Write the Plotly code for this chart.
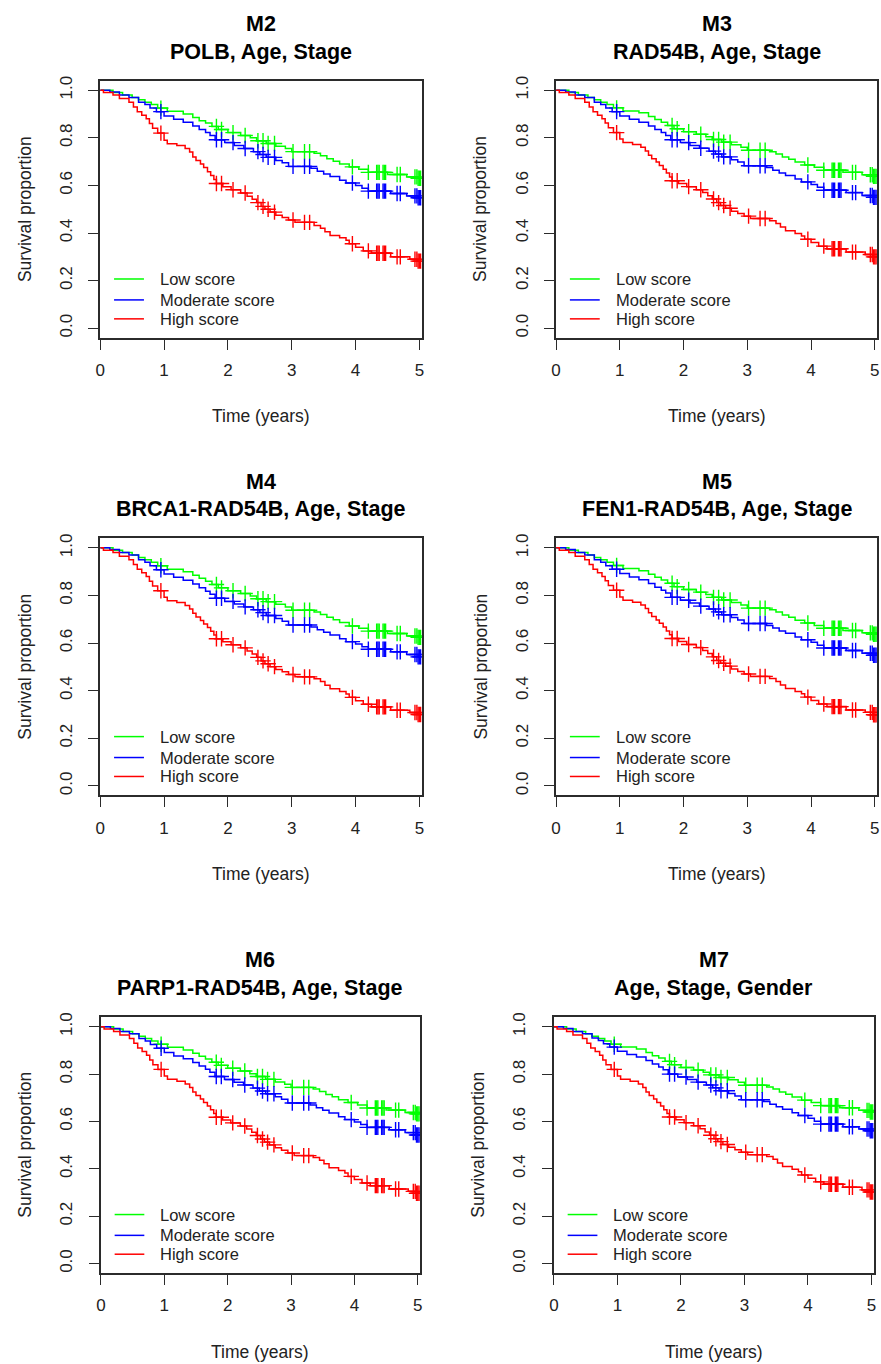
import bisect
import plotly.graph_objects as go

W, H = 881, 1364
FONT = "Liberation Sans, Arial, sans-serif"

# ---------------- data ----------------
PANEL_IDS = ["M2", "M3", "M4", "M5", "M6", "M7"]
PANEL_SUBTITLES = ["POLB, Age, Stage", "RAD54B, Age, Stage", "BRCA1-RAD54B, Age, Stage",
                   "FEN1-RAD54B, Age, Stage", "PARP1-RAD54B, Age, Stage", "Age, Stage, Gender"]
GROUPS = ["Low score", "Moderate score", "High score"]
COLORS = ["#00FF00", "#0000FF", "#FF0000"]

X_TICKS = [0, 1, 2, 3, 4, 5]
Y_TICKS = [0.0, 0.2, 0.4, 0.6, 0.8, 1.0]
Y_TICK_TEXT = ["0.0", "0.2", "0.4", "0.6", "0.8", "1.0"]

# event times (years) of the step drops for each risk group
LOW_T = [0, 0.2, 0.35, 0.5, 0.6, 0.7, 0.8, 0.9, 1.05, 1.3, 1.45, 1.55, 1.65, 1.75, 1.85, 2.0, 2.2,
         2.35, 2.45, 2.6, 2.75, 2.9, 3.0, 3.35, 3.45, 3.55, 3.65, 3.75, 3.9, 4.05, 4.2, 4.5, 4.8, 4.97]
MOD_T = [0, 0.15, 0.3, 0.45, 0.6, 0.7, 0.78, 0.88, 1.0, 1.15, 1.3, 1.45, 1.55, 1.65, 1.72, 1.8, 1.95,
         2.1, 2.25, 2.4, 2.5, 2.6, 2.75, 2.85, 2.95, 3.3, 3.4, 3.5, 3.6, 3.75, 3.85, 4.0, 4.1, 4.2,
         4.55, 4.8, 4.98]
HIGH_T = [0, 0.05, 0.2, 0.3, 0.45, 0.52, 0.58, 0.65, 0.72, 0.77, 0.82, 0.9, 1.0, 1.05, 1.2, 1.33, 1.4,
          1.45, 1.5, 1.57, 1.62, 1.68, 1.73, 1.78, 1.82, 1.92, 2.05, 2.2, 2.3, 2.38, 2.45, 2.52, 2.58,
          2.66, 2.75, 2.85, 2.95, 3.05, 3.35, 3.45, 3.52, 3.6, 3.75, 3.85, 3.9, 4.0, 4.12, 4.25, 4.55,
          4.85, 4.97]

# censoring times (shown as "+")
CENSOR_T = [0.95, 1.82, 1.9, 2.08, 2.27, 2.47, 2.55, 2.63, 2.73, 3.02, 3.2, 3.28, 3.95, 4.2,
            4.33, 4.35, 4.37, 4.43, 4.45, 4.47, 4.65, 4.7, 4.93, 4.96, 4.98, 5.0, 5.02]

# survival proportions per panel
LOW_S_M2 = [1.0, 0.99, 0.98, 0.97, 0.96, 0.95, 0.94, 0.925, 0.912, 0.9, 0.885, 0.872, 0.862, 0.848,
            0.835, 0.822, 0.81, 0.8, 0.788, 0.776, 0.765, 0.755, 0.742, 0.735, 0.725, 0.712, 0.702,
            0.69, 0.678, 0.668, 0.655, 0.646, 0.636, 0.63]
MOD_S_M2 = [1.0, 0.993, 0.98, 0.97, 0.95, 0.94, 0.925, 0.91, 0.892, 0.878, 0.866, 0.85, 0.835, 0.822,
            0.81, 0.792, 0.78, 0.768, 0.755, 0.742, 0.73, 0.718, 0.705, 0.695, 0.68, 0.672, 0.66,
            0.648, 0.638, 0.622, 0.61, 0.6, 0.588, 0.576, 0.566, 0.556, 0.548]
HIGH_S_M2 = [1.0, 0.99, 0.98, 0.965, 0.95, 0.93, 0.91, 0.895, 0.88, 0.86, 0.84, 0.82, 0.79, 0.775,
             0.768, 0.755, 0.74, 0.72, 0.705, 0.69, 0.675, 0.658, 0.642, 0.625, 0.608, 0.595, 0.582,
             0.568, 0.555, 0.542, 0.528, 0.512, 0.5, 0.488, 0.475, 0.465, 0.455, 0.445, 0.432, 0.42,
             0.405, 0.39, 0.38, 0.37, 0.355, 0.34, 0.325, 0.315, 0.3, 0.29, 0.282]

LOW_S_M3 = [1.0, 0.99, 0.98, 0.97, 0.96, 0.95, 0.94, 0.926, 0.913, 0.905, 0.89, 0.877, 0.866, 0.852,
            0.838, 0.826, 0.815, 0.805, 0.793, 0.782, 0.771, 0.761, 0.748, 0.742, 0.732, 0.72, 0.71,
            0.698, 0.686, 0.676, 0.664, 0.655, 0.645, 0.638]
MOD_S_M3 = [1.0, 0.993, 0.98, 0.97, 0.95, 0.94, 0.925, 0.91, 0.892, 0.878, 0.866, 0.85, 0.835, 0.822,
            0.81, 0.792, 0.78, 0.768, 0.756, 0.744, 0.732, 0.72, 0.708, 0.698, 0.683, 0.675, 0.664,
            0.652, 0.642, 0.627, 0.615, 0.604, 0.592, 0.58, 0.57, 0.558, 0.55]
HIGH_S_M3 = [1.0, 0.99, 0.98, 0.965, 0.95, 0.93, 0.91, 0.895, 0.88, 0.862, 0.842, 0.822, 0.795, 0.78,
             0.772, 0.76, 0.745, 0.727, 0.712, 0.698, 0.684, 0.668, 0.652, 0.636, 0.62, 0.608, 0.595,
             0.582, 0.57, 0.557, 0.543, 0.528, 0.516, 0.504, 0.492, 0.482, 0.471, 0.461, 0.452, 0.44,
             0.425, 0.41, 0.398, 0.388, 0.374, 0.36, 0.345, 0.334, 0.32, 0.31, 0.3]

LOW_S_M4 = [1.0, 0.99, 0.98, 0.97, 0.96, 0.95, 0.94, 0.925, 0.91, 0.9, 0.885, 0.872, 0.86, 0.846,
            0.832, 0.82, 0.808, 0.798, 0.786, 0.774, 0.763, 0.752, 0.738, 0.73, 0.72, 0.708, 0.698,
            0.686, 0.672, 0.662, 0.65, 0.64, 0.63, 0.624]
MOD_S_M4 = [1.0, 0.993, 0.98, 0.97, 0.95, 0.94, 0.925, 0.908, 0.89, 0.876, 0.864, 0.848, 0.832, 0.818,
            0.805, 0.788, 0.775, 0.764, 0.752, 0.74, 0.728, 0.716, 0.703, 0.692, 0.676, 0.668, 0.656,
            0.645, 0.634, 0.618, 0.606, 0.596, 0.585, 0.574, 0.563, 0.552, 0.542]
HIGH_S_M4 = [1.0, 0.99, 0.98, 0.965, 0.95, 0.93, 0.91, 0.895, 0.88, 0.86, 0.84, 0.82, 0.792, 0.778,
             0.77, 0.758, 0.743, 0.725, 0.71, 0.695, 0.68, 0.665, 0.65, 0.634, 0.618, 0.606, 0.593,
             0.58, 0.567, 0.554, 0.54, 0.525, 0.513, 0.501, 0.489, 0.479, 0.468, 0.458, 0.45, 0.438,
             0.423, 0.408, 0.396, 0.386, 0.372, 0.358, 0.343, 0.332, 0.318, 0.308, 0.3]

LOW_S_M5 = [1.0, 0.99, 0.98, 0.97, 0.96, 0.95, 0.94, 0.926, 0.913, 0.904, 0.889, 0.876, 0.865, 0.851,
            0.837, 0.825, 0.814, 0.804, 0.792, 0.781, 0.77, 0.76, 0.747, 0.74, 0.73, 0.718, 0.708,
            0.696, 0.684, 0.674, 0.662, 0.653, 0.643, 0.637]
MOD_S_M5 = [1.0, 0.993, 0.98, 0.97, 0.95, 0.94, 0.925, 0.91, 0.892, 0.878, 0.866, 0.85, 0.835, 0.822,
            0.81, 0.792, 0.78, 0.768, 0.755, 0.743, 0.731, 0.719, 0.707, 0.697, 0.682, 0.674, 0.663,
            0.651, 0.641, 0.626, 0.614, 0.603, 0.591, 0.579, 0.569, 0.557, 0.549]
HIGH_S_M5 = [1.0, 0.99, 0.98, 0.965, 0.95, 0.93, 0.91, 0.895, 0.88, 0.862, 0.842, 0.822, 0.794, 0.78,
             0.772, 0.76, 0.745, 0.727, 0.712, 0.697, 0.683, 0.667, 0.651, 0.635, 0.619, 0.607, 0.594,
             0.581, 0.569, 0.556, 0.542, 0.527, 0.515, 0.503, 0.491, 0.481, 0.47, 0.46, 0.451, 0.439,
             0.424, 0.409, 0.397, 0.387, 0.373, 0.359, 0.344, 0.333, 0.319, 0.309, 0.299]

LOW_S_M6 = [1.0, 0.99, 0.98, 0.97, 0.96, 0.95, 0.94, 0.926, 0.913, 0.902, 0.888, 0.875, 0.864, 0.85,
            0.837, 0.825, 0.813, 0.802, 0.79, 0.778, 0.767, 0.757, 0.744, 0.737, 0.727, 0.714, 0.704,
            0.692, 0.68, 0.67, 0.657, 0.648, 0.638, 0.632]
MOD_S_M6 = [1.0, 0.993, 0.98, 0.97, 0.95, 0.94, 0.925, 0.909, 0.891, 0.877, 0.865, 0.849, 0.834, 0.821,
            0.808, 0.79, 0.777, 0.766, 0.754, 0.741, 0.729, 0.717, 0.704, 0.694, 0.678, 0.67, 0.658,
            0.647, 0.636, 0.62, 0.608, 0.598, 0.587, 0.575, 0.565, 0.553, 0.543]
HIGH_S_M6 = [1.0, 0.99, 0.98, 0.965, 0.95, 0.93, 0.91, 0.895, 0.88, 0.86, 0.84, 0.82, 0.792, 0.778,
             0.77, 0.758, 0.743, 0.725, 0.71, 0.695, 0.68, 0.665, 0.65, 0.634, 0.618, 0.606, 0.594,
             0.581, 0.568, 0.555, 0.541, 0.526, 0.513, 0.501, 0.489, 0.478, 0.467, 0.456, 0.448, 0.436,
             0.421, 0.405, 0.393, 0.382, 0.368, 0.355, 0.34, 0.329, 0.315, 0.305, 0.297]

LOW_S_M7 = [1.0, 0.99, 0.98, 0.97, 0.96, 0.95, 0.94, 0.926, 0.914, 0.906, 0.891, 0.878, 0.868, 0.854,
            0.84, 0.828, 0.817, 0.808, 0.797, 0.786, 0.776, 0.766, 0.753, 0.746, 0.737, 0.725, 0.715,
            0.703, 0.69, 0.68, 0.667, 0.658, 0.647, 0.64]
MOD_S_M7 = [1.0, 0.993, 0.98, 0.97, 0.952, 0.942, 0.928, 0.914, 0.897, 0.883, 0.872, 0.857, 0.843, 0.83,
            0.818, 0.8, 0.788, 0.777, 0.766, 0.754, 0.742, 0.73, 0.718, 0.708, 0.692, 0.684, 0.673,
            0.662, 0.652, 0.637, 0.625, 0.614, 0.601, 0.589, 0.578, 0.568, 0.561]
HIGH_S_M7 = [1.0, 0.99, 0.98, 0.965, 0.95, 0.93, 0.91, 0.895, 0.88, 0.86, 0.84, 0.82, 0.792, 0.778,
             0.77, 0.758, 0.743, 0.725, 0.71, 0.695, 0.68, 0.665, 0.65, 0.634, 0.619, 0.607, 0.595,
             0.582, 0.569, 0.556, 0.542, 0.527, 0.515, 0.503, 0.491, 0.481, 0.47, 0.46, 0.452, 0.44,
             0.425, 0.41, 0.398, 0.388, 0.374, 0.36, 0.345, 0.335, 0.322, 0.311, 0.302]

PANEL_CURVES = [
    (LOW_S_M2, MOD_S_M2, HIGH_S_M2),
    (LOW_S_M3, MOD_S_M3, HIGH_S_M3),
    (LOW_S_M4, MOD_S_M4, HIGH_S_M4),
    (LOW_S_M5, MOD_S_M5, HIGH_S_M5),
    (LOW_S_M6, MOD_S_M6, HIGH_S_M6),
    (LOW_S_M7, MOD_S_M7, HIGH_S_M7),
]
GROUP_T = [LOW_T, MOD_T, HIGH_T]

# ---------------- layout geometry (pixels) ----------------
# plot box: left, right, top, bottom
BOXES = [
    (96.0, 420.0, 76.0, 334.0),
    (555.5, 879.0, 76.0, 334.0),
    (96.0, 420.0, 535.3, 793.3),
    (555.5, 879.0, 535.3, 793.3),
    (96.7, 418.3, 1016.0, 1272.7),
    (553.3, 875.7, 1016.0, 1272.7),
]


def px(x):
    return x / W


def py(y):
    return 1 - y / H


fig = go.Figure()
annotations = []
shapes = []
layout_axes = {}

for i, pid in enumerate(PANEL_IDS):
    n = i + 1
    xa = "x" if n == 1 else f"x{n}"
    ya = "y" if n == 1 else f"y{n}"
    l, r, t, b = BOXES[i]
    curves = PANEL_CURVES[i]
    for g in range(3):
        T = GROUP_T[g]
        S = curves[g]
        xs = list(T) + [CENSOR_T[-1]]
        ys = list(S) + [S[-1]]
        fig.add_trace(go.Scatter(x=xs, y=ys, mode="lines", line=dict(color=COLORS[g], width=1.5, shape="hv"),
                                 xaxis=xa, yaxis=ya, showlegend=False, hoverinfo="skip"))
        cy = [S[bisect.bisect_right(T, c) - 1] for c in CENSOR_T]
        fig.add_trace(go.Scatter(x=CENSOR_T, y=cy, mode="markers",
                                 marker=dict(symbol="cross-thin", size=11, color=COLORS[g],
                                             line=dict(color=COLORS[g], width=1.4)),
                                 xaxis=xa, yaxis=ya, showlegend=False, hoverinfo="skip"))

    axis_common = dict(showgrid=False, zeroline=False, showline=True, mirror=True,
                       linecolor="#2b2b2b", linewidth=1.5, ticks="outside", ticklen=10,
                       tickwidth=1.3, tickcolor="#2b2b2b",
                       tickfont=dict(family=FONT, size=17, color="#222222"))
    layout_axes["xaxis" if n == 1 else f"xaxis{n}"] = dict(
        axis_common, domain=[px(l), px(r)], anchor=ya, range=[0, 5.035],
        tickvals=X_TICKS, ticktext=[str(v) for v in X_TICKS], ticklabelstandoff=6)
    layout_axes["yaxis" if n == 1 else f"yaxis{n}"] = dict(
        axis_common, domain=[py(b), py(t)], anchor=xa, range=[-0.04, 1.04],
        tickvals=Y_TICKS, ticktext=Y_TICK_TEXT, tickangle=-90, ticklabelstandoff=10)

    cx = (l + r) / 2
    annotations.append(dict(text=f"<b>{pid}</b>", x=px(cx), y=py(t - 57), xref="paper", yref="paper",
                            xanchor="center", yanchor="middle", showarrow=False,
                            font=dict(family=FONT, size=21.5, color="#000000")))
    annotations.append(dict(text=f"<b>{PANEL_SUBTITLES[i]}</b>", x=px(cx), y=py(t - 29), xref="paper",
                            yref="paper", xanchor="center", yanchor="middle", showarrow=False,
                            font=dict(family=FONT, size=21.5, color="#000000")))
    annotations.append(dict(text="Time (years)", x=px(cx), y=py(b + 79), xref="paper", yref="paper",
                            xanchor="center", yanchor="middle", showarrow=False,
                            font=dict(family=FONT, size=17.5, color="#222222")))
    annotations.append(dict(text="Survival proportion", x=px(l - 76), y=py((t + b) / 2), xref="paper",
                            yref="paper", xanchor="center", yanchor="middle", showarrow=False,
                            textangle=-90, font=dict(family=FONT, size=17.5, color="#222222")))

    # legend (inside the plot box, lower left)
    leg_y = [0.2287, 0.1473, 0.0736]
    for g in range(3):
        shapes.append(dict(type="line", xref=f"{xa} domain", yref=f"{ya} domain",
                           x0=0.043, x1=0.136, y0=leg_y[g], y1=leg_y[g],
                           line=dict(color=COLORS[g], width=1.5)))
        annotations.append(dict(text=GROUPS[g], xref=f"{xa} domain", yref=f"{ya} domain",
                                x=0.179, y=leg_y[g], xanchor="left", yanchor="middle", showarrow=False,
                                font=dict(family=FONT, size=16.5, color="#222222")))

fig.update_layout(
    width=W, height=H, margin=dict(l=0, r=0, t=0, b=0),
    paper_bgcolor="white", plot_bgcolor="white",
    showlegend=False, annotations=annotations, shapes=shapes, **layout_axes,
)

fig.write_html("out.html", config={"displayModeBar": False},
               post_script="document.body.style.margin='0';document.body.style.padding='0';"
                           "document.body.style.overflow='hidden';"
                           "document.documentElement.style.overflow='hidden';")
